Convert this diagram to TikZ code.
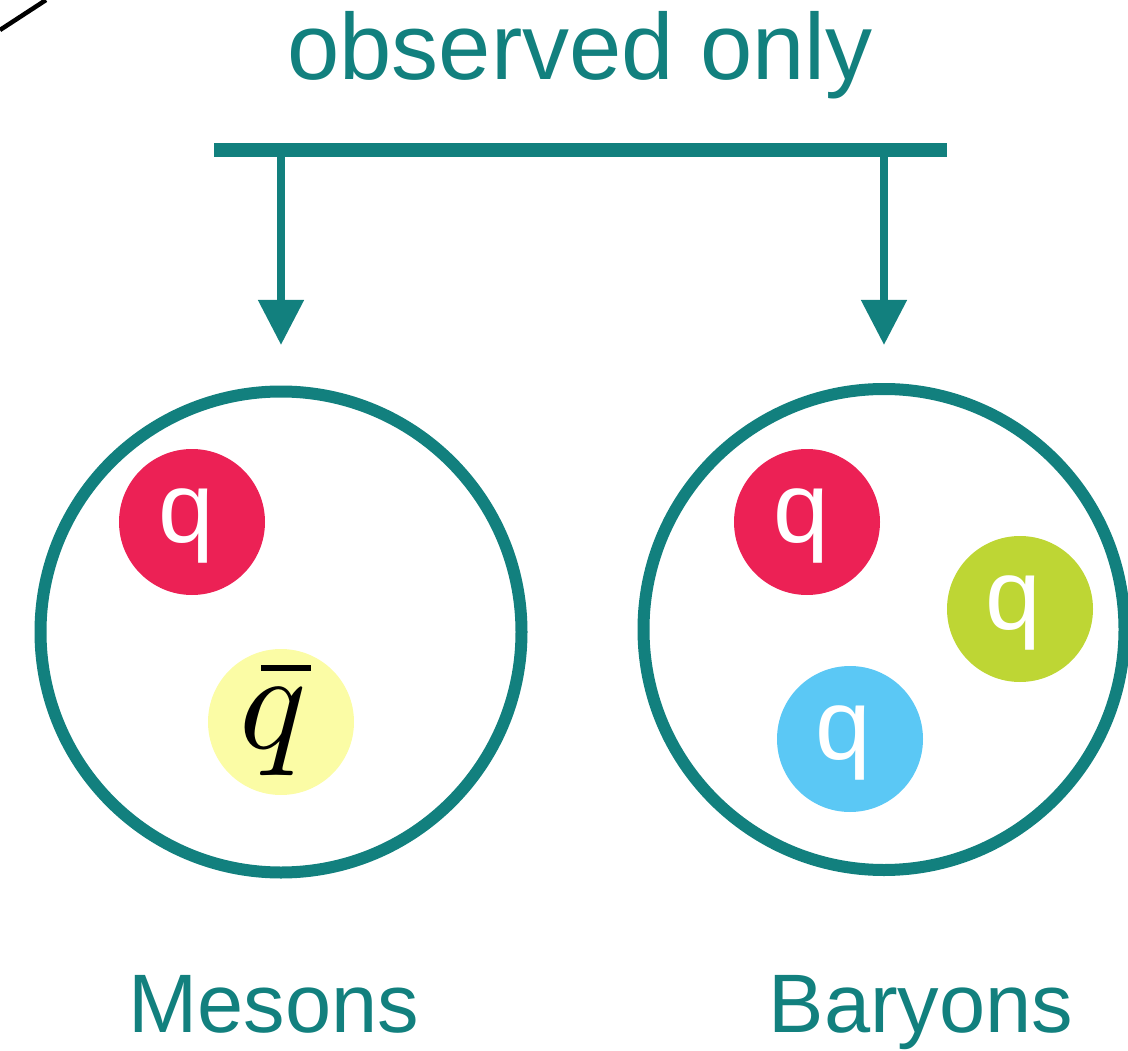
\documentclass[tikz,border=0pt]{standalone}
\usepackage{graphicx}
\usepackage{fontspec}
\setsansfont{Liberation Sans}
\usetikzlibrary{arrows.meta}
\definecolor{tealc}{RGB}{18,128,126}
\definecolor{qred}{RGB}{236,33,85}
\definecolor{qyellow}{RGB}{251,252,165}
\definecolor{qgreen}{RGB}{190,214,52}
\definecolor{qblue}{RGB}{91,200,245}
\tikzset{
  hadron/.style={circle, draw=tealc, line width=12pt, minimum size=481pt, inner sep=0pt},
  quark/.style={circle, fill=#1, draw=none, minimum size=146pt, inner sep=0pt},
  qlabel/.style={anchor=base, text=white, font=\sffamily\fontsize{100}{110}\selectfont, inner sep=0pt},
  title/.style={anchor=base, text=tealc, font=\sffamily\fontsize{94}{100}\selectfont, inner sep=0pt},
  caption/.style={anchor=base, text=tealc, font=\sffamily\fontsize{83}{90}\selectfont, inner sep=0pt},
  arr/.style={draw=tealc, line width=8pt, -{Triangle[width=44pt,length=45pt]}}
}
\begin{document}
\begin{tikzpicture}[x=1pt,y=-1pt]
\useasboundingbox (0,0) rectangle (1128,1051);
% corner line
\coordinate (c1) at (0,30);
\coordinate (c2) at (46,0);
\draw[line width=4.5pt] (c1) -- (c2);
% title
\node[title] (obs) at (580,80) {observed only};
% bar
\coordinate (barL) at (214,150);
\coordinate (barR) at (947,150);
\draw[tealc, line width=14pt] (barL) -- (barR);
\coordinate (a1) at (281,150);
\coordinate (a2) at (884,150);
\coordinate (t1) at (281,345);
\coordinate (t2) at (884,345);
\draw[arr] (a1) -- (t1);
\draw[arr] (a2) -- (t2);
% hadrons
\node[hadron] (meson) at (281,632) {};
\node[hadron] (baryon) at (884,629.5) {};
% meson quarks
\node[quark=qred] (mq1) at (192,522) {};
\node[qlabel] (mq1l) at (186,542) {q};
\node[quark=qyellow] (mq2) at (281,722) {};
\node[anchor=base, inner sep=0pt] (mq2l) at (275,748) {\scalebox{14}{$\rlap{$q$}\mkern2.8mu\overline{\phantom{q}\mkern-2.3mu}$}};
% baryon quarks
\node[quark=qred] (bq1) at (807,522) {};
\node[qlabel] (bq1l) at (801,542) {q};
\node[quark=qgreen] (bq2) at (1020,609) {};
\node[qlabel] (bq2l) at (1013,629) {q};
\node[quark=qblue] (bq3) at (850,739) {};
\node[qlabel] (bq3l) at (843,759) {q};
% captions
\node[caption] (mes) at (274,1032) {Mesons};
\node[caption] (bar) at (921,1032) {Baryons};
\end{tikzpicture}
\end{document}
